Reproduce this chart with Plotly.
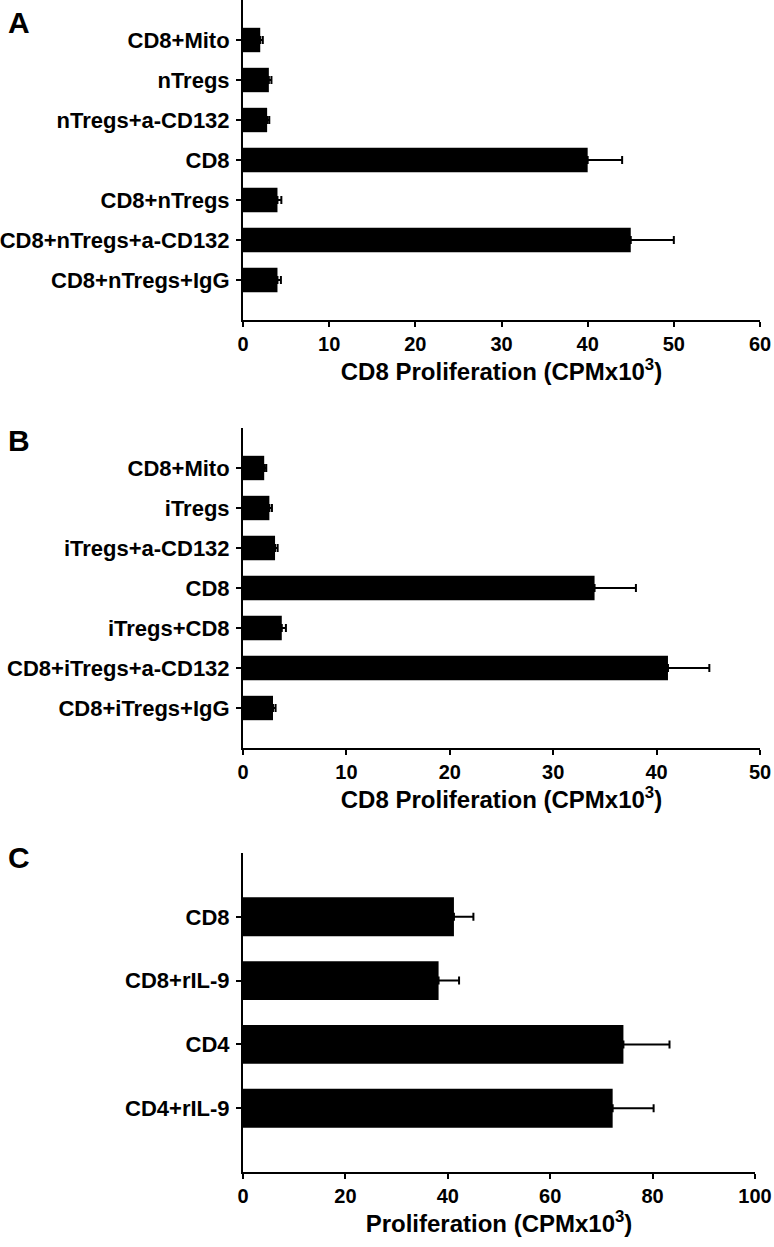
import plotly.graph_objects as go

W, H = 774, 1247

# Panel A
a_labels = ["CD8+Mito", "nTregs", "nTregs+a-CD132", "CD8", "CD8+nTregs",
            "CD8+nTregs+a-CD132", "CD8+nTregs+IgG"]
a_values = [2.0, 3.0, 2.8, 40.0, 4.0, 45.0, 4.0]
a_errors = [0.3, 0.3, 0.25, 4.0, 0.45, 5.0, 0.4]
a_ticks = [0, 10, 20, 30, 40, 50, 60]

# Panel B
b_labels = ["CD8+Mito", "iTregs", "iTregs+a-CD132", "CD8", "iTregs+CD8",
            "CD8+iTregs+a-CD132", "CD8+iTregs+IgG"]
b_values = [2.05, 2.55, 3.1, 34.0, 3.75, 41.1, 2.9]
b_errors = [0.2, 0.25, 0.25, 4.0, 0.4, 4.0, 0.25]
b_ticks = [0, 10, 20, 30, 40, 50]

# Panel C
c_labels = ["CD8", "CD8+rIL-9", "CD4", "CD4+rIL-9"]
c_values = [41.2, 38.2, 74.3, 72.2]
c_errors = [3.8, 4.0, 9.0, 8.0]
c_ticks = [0, 20, 40, 60, 80, 100]

x_title = "CD8 Proliferation (CPMx10<sup>3</sup>)"
c_title = "Proliferation (CPMx10<sup>3</sup>)"

FONT = "Liberation Sans, Arial, Helvetica, sans-serif"

fig = go.Figure()

panels = [
    (a_labels, a_values, a_errors, "x", "y"),
    (b_labels, b_values, b_errors, "x2", "y2"),
    (c_labels, c_values, c_errors, "x3", "y3"),
]
for labels, vals, errs, xa, ya in panels:
    fig.add_trace(go.Bar(
        x=vals, y=labels, orientation="h", xaxis=xa, yaxis=ya,
        width=0.61,
        marker=dict(color="black", line=dict(width=0)),
        error_x=dict(type="data", array=errs, arrayminus=[0] * len(errs),
                     symmetric=False, color="black", thickness=2, width=4),
        showlegend=False,
    ))

def ydom(top_px, bot_px):
    return [1 - bot_px / H, 1 - top_px / H]

def xaxis_cfg(ticks, title, anchor, right_px):
    return dict(
        domain=[243 / W, right_px / W], range=[0, ticks[-1]], tickvals=ticks,
        ticktext=[str(t) for t in ticks],
        showline=True, linecolor="black", linewidth=2,
        ticks="outside", ticklen=5, tickwidth=2, tickcolor="black",
        showgrid=False, zeroline=False, anchor=anchor,
        tickfont=dict(family=FONT, size=20, color="black", weight="bold"),
        title=dict(text=title, standoff=8,
                   font=dict(family=FONT, size=24, color="black", weight="bold")),
        automargin=False, fixedrange=True,
    )

def yaxis_cfg(labels, dom, anchor):
    n = len(labels)
    return dict(
        domain=dom, type="category", categoryorder="array", categoryarray=labels,
        range=[n, -1],
        showline=True, linecolor="black", linewidth=2,
        ticks="outside", ticklen=5, tickwidth=2, tickcolor="black",
        showgrid=False, zeroline=False, anchor=anchor,
        tickfont=dict(family=FONT, size=22, color="black", weight="bold"),
        ticklabelstandoff=2,
        automargin=False, fixedrange=True,
    )

fig.update_layout(
    width=W, height=H,
    margin=dict(l=0, r=0, t=0, b=0),
    paper_bgcolor="white", plot_bgcolor="white",
    xaxis=xaxis_cfg(a_ticks, x_title, "y", 760),
    yaxis=yaxis_cfg(a_labels, ydom(0, 320), "x"),
    xaxis2=xaxis_cfg(b_ticks, x_title, "y2", 760),
    yaxis2=yaxis_cfg(b_labels, ydom(428, 748), "x2"),
    xaxis3=xaxis_cfg(c_ticks, c_title, "y3", 755),
    yaxis3=yaxis_cfg(c_labels, ydom(853, 1172), "x3"),
)

for letter, top_px in [("A", 4), ("B", 422), ("C", 839)]:
    fig.add_annotation(
        text=letter, x=6 / W, y=1 - top_px / H, xref="paper", yref="paper",
        xanchor="left", yanchor="top", showarrow=False,
        font=dict(family=FONT, size=30, color="black", weight="bold"),
    )

fig.write_html(
    "out.html",
    config={"displayModeBar": False},
    post_script="document.body.style.margin='0';document.body.style.overflow='hidden';",
)
